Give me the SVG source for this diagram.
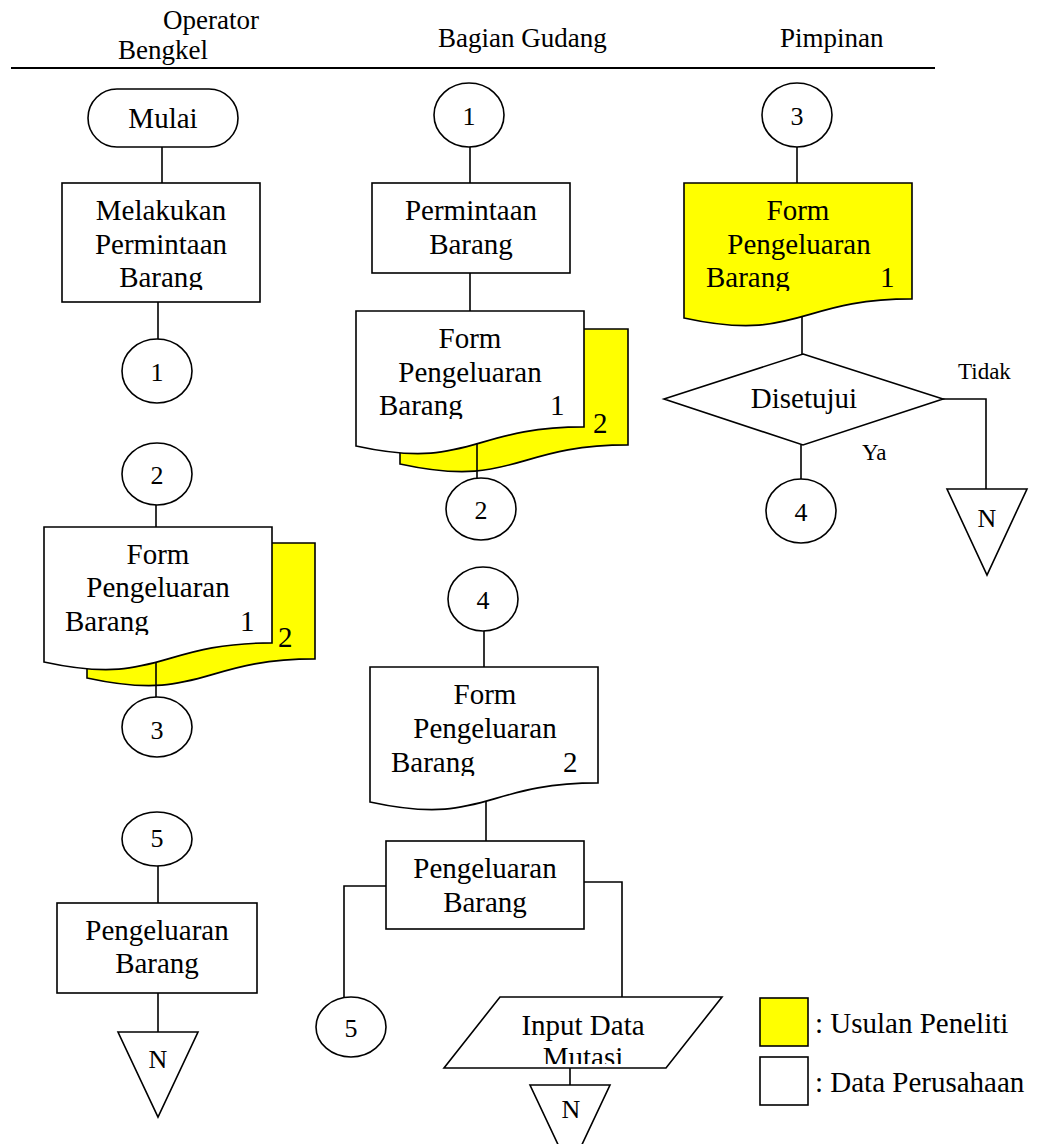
<svg xmlns="http://www.w3.org/2000/svg" width="1049" height="1144" viewBox="0 0 1049 1144">
<style>
.s{stroke:#000;stroke-width:1.6;fill:#fff}
.y{fill:#ff0}
.c{stroke:#000;stroke-width:1.6;fill:none}
.t{font-family:"Liberation Serif","Times New Roman",serif;font-size:29px;fill:#000}
.m{text-anchor:middle}
.n{font-size:26px}
.h{font-size:27px}
.sm{font-size:23px}
</style>
<defs>
<clipPath id="k1"><rect x="62" y="183" width="198" height="107"/></clipPath>
<clipPath id="k2"><rect x="44" y="527" width="228" height="108"/></clipPath>
<clipPath id="k3"><rect x="356" y="311" width="228" height="108"/></clipPath>
<clipPath id="k4"><rect x="684" y="183" width="228" height="108"/></clipPath>
<clipPath id="k5"><rect x="370" y="667" width="228" height="109"/></clipPath>
<clipPath id="k6"><rect x="444" y="997" width="278" height="67"/></clipPath>
</defs>
<rect width="1049" height="1144" fill="#fff"/>

<g id="header">
<text class="t h" x="163" y="29">Operator</text>
<text class="t h" x="118" y="59">Bengkel</text>
<text class="t h" x="438" y="47">Bagian Gudang</text>
<text class="t h" x="780" y="47">Pimpinan</text>
<line x1="11" y1="68" x2="935" y2="68" stroke="#000" stroke-width="2.2"/>
</g>

<g id="connectors">
<line class="c" x1="162" y1="147" x2="162" y2="183"/>
<line class="c" x1="158" y1="302" x2="158" y2="339"/>
<line class="c" x1="156" y1="505" x2="156" y2="527"/>
<line class="c" x1="158" y1="866" x2="158" y2="903"/>
<line class="c" x1="158" y1="993" x2="158" y2="1032"/>
<line class="c" x1="470" y1="147" x2="470" y2="183"/>
<line class="c" x1="470" y1="273" x2="470" y2="311"/>
<line class="c" x1="484" y1="631" x2="484" y2="667"/>
<line class="c" x1="486" y1="801" x2="486" y2="841"/>
<polyline class="c" points="386,886 344,886 344,997"/>
<polyline class="c" points="584,882 622,882 622,997"/>
<line class="c" x1="570" y1="1068" x2="570" y2="1085"/>
<line class="c" x1="797" y1="147" x2="797" y2="183"/>
<line class="c" x1="802" y1="317" x2="802" y2="354"/>
<line class="c" x1="801" y1="445" x2="801" y2="479"/>
<polyline class="c" points="943,399 986,399 986,489"/>
</g>

<g id="op-mulai"><rect class="s" x="88" y="89" width="150" height="58" rx="29"/><text class="t m" x="163" y="128">Mulai</text></g>
<g id="op-melakukan"><rect class="s" x="62" y="183" width="198" height="119"/>
<text class="t m" x="161" y="220">Melakukan</text><text class="t m" x="161" y="254">Permintaan</text>
<text class="t m" x="161" y="287" clip-path="url(#k1)">Barang</text></g>
<g id="op-c1"><ellipse class="s" cx="157" cy="371" rx="35" ry="32"/><text class="t n m" x="157" y="381">1</text></g>
<g id="op-c2"><ellipse class="s" cx="157" cy="474" rx="35" ry="31"/><text class="t n m" x="157" y="484">2</text></g>
<g id="op-form">
<path class="s y" d="M87,543 H315 V658.9 C201,658.9 201,703 87,678 Z"/>
<text class="t" x="278" y="647">2</text>
<path class="s" d="M44,527 H272 V642.9 C158,642.9 158,687 44,662 Z"/>
<text class="t m" x="158" y="564">Form</text><text class="t m" x="158" y="597">Pengeluaran</text>
<text class="t" x="65" y="631" clip-path="url(#k2)">Barang</text><text class="t" x="240" y="631">1</text>
</g>
<line class="c" x1="156" y1="662" x2="156" y2="698"/>
<g id="op-c3"><ellipse class="s" cx="157" cy="727" rx="35" ry="30"/><text class="t n m" x="157" y="739">3</text></g>
<g id="op-c5"><ellipse class="s" cx="157" cy="839" rx="35" ry="27"/><text class="t n m" x="157" y="847">5</text></g>
<g id="op-pengeluaran"><rect class="s" x="57" y="903" width="200" height="90"/>
<text class="t m" x="157" y="940">Pengeluaran</text><text class="t m" x="157" y="973">Barang</text></g>
<g id="op-end"><polygon class="s" points="118,1032 198,1032 158,1117"/><text class="t n m" x="158" y="1068">N</text></g>

<g id="bg-c1"><ellipse class="s" cx="469" cy="115" rx="35" ry="32"/><text class="t n m" x="469" y="125">1</text></g>
<g id="bg-permintaan"><rect class="s" x="372" y="183" width="198" height="90"/>
<text class="t m" x="471" y="220">Permintaan</text><text class="t m" x="471" y="254">Barang</text></g>
<g id="bg-form">
<path class="s y" d="M400,329 H628 V444.9 C514,444.9 514,489 400,464 Z"/>
<text class="t" x="593" y="433">2</text>
<path class="s" d="M356,311 H584 V426.9 C470,426.9 470,471 356,446 Z"/>
<text class="t m" x="470" y="348">Form</text><text class="t m" x="470" y="382">Pengeluaran</text>
<text class="t" x="379" y="415" clip-path="url(#k3)">Barang</text><text class="t" x="550" y="415">1</text>
</g>
<line class="c" x1="477" y1="444" x2="477" y2="478"/>
<g id="bg-c2"><ellipse class="s" cx="481" cy="509" rx="35" ry="31"/><text class="t n m" x="481" y="519">2</text></g>
<g id="bg-c4"><ellipse class="s" cx="483" cy="599" rx="35" ry="32"/><text class="t n m" x="483" y="609">4</text></g>
<g id="bg-form2">
<path class="s" d="M370,667 H598 V782.9 C484,782.9 484,827 370,802 Z"/>
<text class="t m" x="485" y="704">Form</text><text class="t m" x="485" y="738">Pengeluaran</text>
<text class="t" x="391" y="772" clip-path="url(#k5)">Barang</text><text class="t" x="563" y="772">2</text>
</g>
<g id="bg-pengeluaran"><rect class="s" x="386" y="841" width="198" height="88"/>
<text class="t m" x="485" y="878">Pengeluaran</text><text class="t m" x="485" y="912">Barang</text></g>
<g id="bg-c5"><ellipse class="s" cx="351" cy="1027" rx="35" ry="30"/><text class="t n m" x="351" y="1037">5</text></g>
<g id="bg-input"><polygon class="s" points="500,997 722,997 666,1068 444,1068"/>
<text class="t m" x="583" y="1035">Input Data</text><text class="t m" x="583" y="1067" clip-path="url(#k6)">Mutasi</text></g>
<g id="bg-end"><polygon class="s" points="530,1085 610,1085 570,1170"/><text class="t n m" x="571" y="1118">N</text></g>

<g id="p-c3"><ellipse class="s" cx="797" cy="115" rx="35" ry="32"/><text class="t n m" x="797" y="125">3</text></g>
<g id="p-form">
<path class="s y" d="M684,183 H912 V298.9 C798,298.9 798,343 684,318 Z"/>
<text class="t m" x="798" y="220">Form</text><text class="t m" x="799" y="254">Pengeluaran</text>
<text class="t" x="706" y="287" clip-path="url(#k4)">Barang</text><text class="t" x="880" y="287">1</text>
</g>
<g id="p-disetujui"><polygon class="s" points="803,354 943,399 803,445 664,399"/>
<text class="t m" x="804" y="408">Disetujui</text></g>
<text class="t sm" x="958" y="379">Tidak</text>
<text class="t sm" x="862" y="460">Ya</text>
<g id="p-c4"><ellipse class="s" cx="801" cy="511" rx="35" ry="32"/><text class="t n m" x="801" y="521">4</text></g>
<g id="p-end"><polygon class="s" points="947,489 1027,489 987,575"/><text class="t n m" x="987" y="527">N</text></g>

<g id="legend">
<rect class="s y" x="760" y="998" width="48" height="48"/>
<text class="t" x="815" y="1033">: Usulan Peneliti</text>
<rect class="s" x="760" y="1057" width="48" height="48"/>
<text class="t" x="815" y="1092">: Data Perusahaan</text>
</g>
</svg>
